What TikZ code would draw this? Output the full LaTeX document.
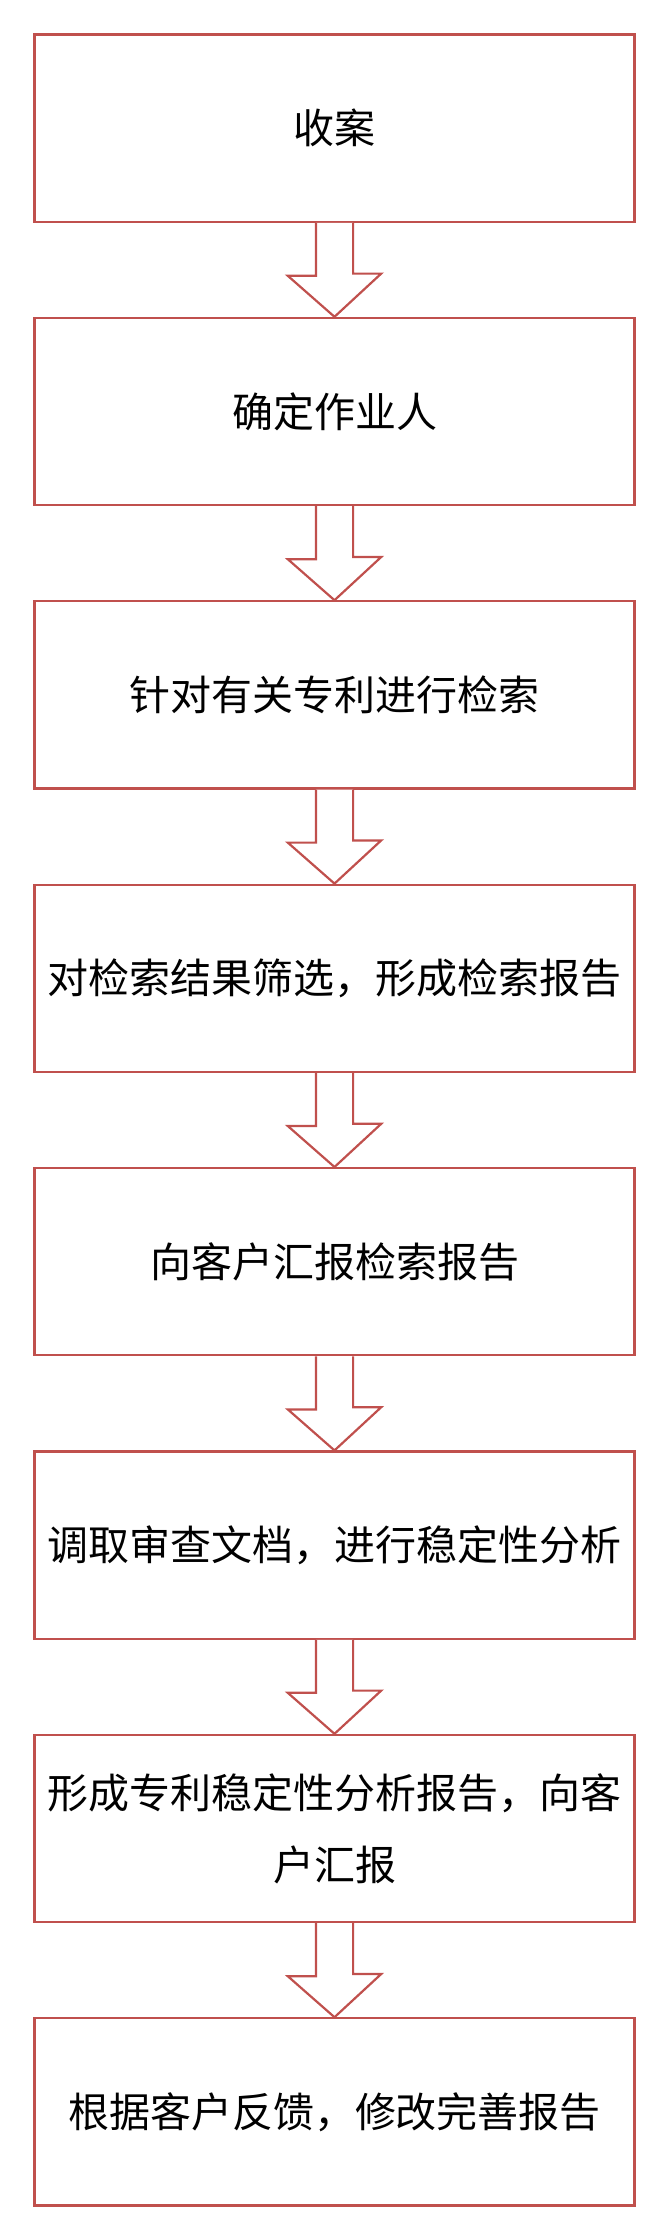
\documentclass[tikz,border=0pt]{standalone}
\usepackage{fontspec}
\setmainfont{Noto Sans CJK SC}
\usetikzlibrary{calc}
\definecolor{boxred}{HTML}{C0504D}
\tikzset{
  stepbox/.style={draw=boxred, line width=2.2pt, fill=white, minimum width=600pt, minimum height=187.2pt,
    inner sep=0pt, align=center, font=\fontsize{41pt}{72pt}\selectfont},
  flowarrow/.style={draw=boxred, line width=2.2pt, line join=miter, fill=white}
}
\newcommand{\bigarrow}[2]{%
  \draw[flowarrow] ([xshift=-18.6pt]#1.south) -- ++(0,-53pt) -- ++(-28.1pt,0) -- (#2.north)
    -- ++(46.7pt,43.2pt) -- ++(-28.1pt,0) -- ([xshift=18.6pt]#1.south);}
\begin{document}
\begin{tikzpicture}[x=1pt,y=1pt]
\useasboundingbox (0,0) rectangle (668,-2239);
\node[stepbox] (b1) at (334.5,-128.1) {收案};
\node[stepbox] (b2) at (334.5,-411.5) {确定作业人};
\node[stepbox] (b3) at (334.5,-694.9) {针对有关专利进行检索};
\node[stepbox] (b4) at (334.5,-978.3) {对检索结果筛选，形成检索报告};
\node[stepbox] (b5) at (334.5,-1261.7) {向客户汇报检索报告};
\node[stepbox] (b6) at (334.5,-1545.1) {调取审查文档，进行稳定性分析};
\node[stepbox] (b7) at (334.5,-1828.5) {形成专利稳定性分析报告，向客\\户汇报};
\node[stepbox] (b8) at (334.5,-2111.9) {根据客户反馈，修改完善报告};
\bigarrow{b1}{b2}
\bigarrow{b2}{b3}
\bigarrow{b3}{b4}
\bigarrow{b4}{b5}
\bigarrow{b5}{b6}
\bigarrow{b6}{b7}
\bigarrow{b7}{b8}
\end{tikzpicture}
\end{document}
